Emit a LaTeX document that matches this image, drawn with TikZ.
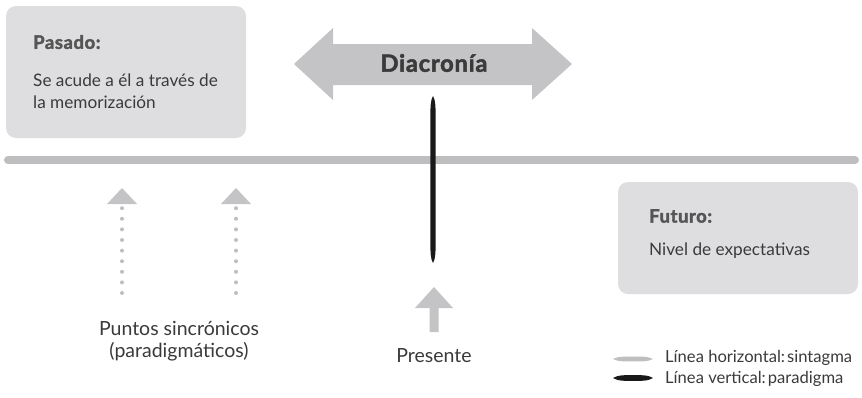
\documentclass[tikz,border=0pt]{standalone}
\usepackage{fontspec}
\setmainfont{Lato}
\newfontfamily\heavyfont{Lato}[BoldFeatures={FakeBold=2,LetterSpace=3}]
\definecolor{boxgray}{HTML}{DEDEE0}
\definecolor{linegray}{HTML}{BEBEC0}
\definecolor{arrgray}{HTML}{C4C4C6}
\definecolor{txt}{HTML}{3A3A3A}
\definecolor{head}{HTML}{555555}
\begin{document}
\begin{tikzpicture}[x=1pt,y=-1pt,
  infobox/.style={fill=boxgray,rounded corners=10pt},
  headtxt/.style={anchor=west,font=\fontsize{18.5}{20}\heavyfont\bfseries,text=head,inner sep=0},
  bodytxt/.style={anchor=west,font=\fontsize{17.2}{21.5}\selectfont,text=txt,inner sep=0,align=left},
  lbl/.style={font=\fontsize{19.5}{22}\selectfont,text=txt,inner sep=0,align=center},
  legtxt/.style={anchor=west,font=\fontsize{16.6}{18}\selectfont,text=txt,inner sep=0},
  dotline/.style={linegray,line width=4pt,line cap=round,dash pattern=on 0pt off 10.6pt}
]
\useasboundingbox (0,0) rectangle (862,397);
% Pasado box
\fill[infobox] (6,6) rectangle (246,138);
\node[headtxt] (pasado) at (33,42) {Pasado:};
\node[bodytxt,anchor=north west] (pasadotxt) at (33,74) {Se acude a él a través de\\la memorización};
% Futuro box
\fill[infobox] (618,182) rectangle (858,294);
\node[headtxt] (futuro) at (649,216) {Futuro:};
\node[bodytxt] (futurotxt) at (649,251) {Nivel de expectativas};
% horizontal line
\coordinate (hl) at (8,160);
\coordinate (hr) at (855,160);
\draw[linegray,line width=8pt,line cap=round] (hl) -- (hr);
% Diacronia double arrow
\fill[arrgray] (294,64) -- (333,28) -- (333,44) -- (532,44) -- (532,28) -- (572,64)
  -- (532,100) -- (532,85) -- (333,85) -- (333,100) -- cycle;
\node[font=\fontsize{23.8}{26}\heavyfont\bfseries,text=txt] (diac) at (434,63) {Diacronía};
% vertical black line
\fill[black!90] (433,96) .. controls (435.6,100) and (435.6,108) .. (435.6,116) -- (435.6,243)
  .. controls (435.6,251) and (435.6,259) .. (433,263)
  .. controls (430.4,259) and (430.4,251) .. (430.4,243) -- (430.4,116)
  .. controls (430.4,108) and (430.4,100) .. (433,96) -- cycle;
% dotted arrows
\coordinate (d1b) at (122,293);
\coordinate (d1t) at (122,208);
\draw[dotline] (d1b) -- (d1t);
\fill[arrgray] (122,188) -- (137,204) -- (107,204) -- cycle;
\coordinate (d2b) at (236,293);
\coordinate (d2t) at (236,208);
\draw[dotline] (d2b) -- (d2t);
\fill[arrgray] (236,188) -- (251,204) -- (221,204) -- cycle;
% Presente arrow
\fill[arrgray] (434,287) -- (453,308) -- (438.5,308) -- (438.5,332) -- (429.5,332) -- (429.5,308) -- (415,308) -- cycle;
\node[lbl] (presente) at (434,356) {Presente};
\node[lbl] (puntos) at (179,341) {Puntos sincrónicos\\(paradigmáticos)};
% legend
\fill[linegray] (613,359) .. controls (618,356.6) and (622,356.6) .. (628,356.6) -- (638,356.6)
  .. controls (644,356.6) and (648,356.6) .. (653,359)
  .. controls (648,361.4) and (644,361.4) .. (638,361.4) -- (628,361.4)
  .. controls (622,361.4) and (618,361.4) .. (613,359) -- cycle;
\fill[black!90] (613,378) .. controls (618,375.2) and (622,375.2) .. (628,375.2) -- (638,375.2)
  .. controls (644,375.2) and (648,375.2) .. (653,378)
  .. controls (648,380.8) and (644,380.8) .. (638,380.8) -- (628,380.8)
  .. controls (622,380.8) and (618,380.8) .. (613,378) -- cycle;
\node[legtxt] (leg1) at (665,358) {Línea horizontal:\hspace{2pt}sintagma};
\node[legtxt] (leg2) at (665,379) {Línea vertical:\hspace{2pt}paradigma};
\end{tikzpicture}
\end{document}
